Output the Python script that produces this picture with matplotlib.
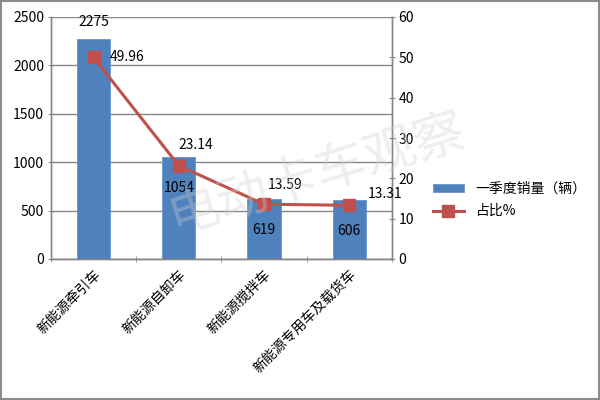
import numpy as np
import matplotlib
matplotlib.use("Agg")
from matplotlib import pyplot as plt
from matplotlib.patches import Rectangle

plt.rcParams['font.family'] = ['Noto Sans CJK SC', 'DejaVu Sans']

# data
categories = ['新能源牵引车', '新能源自卸车', '新能源搅拌车', '新能源专用车及载货车']
sales = [2275, 1054, 619, 606]
share = [49.96, 23.14, 13.59, 13.31]
bar_name = '一季度销量（辆）'
line_name = '占比%'

blue = '#4F81BD'
red = '#C0504D'
grey = '#868686'

fig = plt.figure(figsize=(6, 4), dpi=100)
fig.patches.append(Rectangle((0.002, 0.002), 0.996, 0.996, transform=fig.transFigure,
                             fill=False, edgecolor='#8c8c8c', linewidth=1.5))

ax = fig.add_axes([0.085, 0.3525, 0.568, 0.605])
ax2 = ax.twinx()

x = np.arange(len(categories))
bars = ax.bar(x, sales, width=0.39, color=blue, edgecolor='#6a95c8', linewidth=0.6,
              label=bar_name, zorder=2)
ax.set_xlim(-0.5, len(categories) - 0.5)
ax.set_ylim(0, 2500)
ax.set_yticks(np.arange(0, 2501, 500))
ax.grid(axis='y', color=grey, linewidth=1.0, zorder=0)
ax.set_axisbelow(True)

ax.set_xticks(x)
ax.set_xticklabels(categories, rotation=45, ha='right', va='top', rotation_mode='anchor',
                   fontsize=10)
ax.tick_params(axis='x', length=0, pad=6)
ax.set_xticks(np.arange(-0.5, len(categories)), minor=True)
ax.tick_params(axis='x', which='minor', length=4, color=grey, direction='inout')
ax.tick_params(axis='y', labelsize=10, length=4, color=grey, direction='inout', pad=3)

line, = ax2.plot(x, share, color=red, linewidth=2.2, marker='s', markersize=8,
                 markerfacecolor=red, markeredgecolor=red, label=line_name, zorder=3)
ax2.set_ylim(0, 60)
ax2.set_yticks(np.arange(0, 61, 10))
ax2.tick_params(axis='y', labelsize=10, length=4, color=grey, direction='inout', pad=3)

for a in (ax, ax2):
    a.spines['top'].set_visible(False)
    for s in ('left', 'right', 'bottom'):
        a.spines[s].set_color(grey)
        a.spines[s].set_linewidth(1.0)

# bar value labels
bar_offsets = [(0, 12), (0, -22), (0, -22), (0, -22)]
for xi, v, off in zip(x, sales, bar_offsets):
    ax.annotate(str(v), (xi, v), xytext=off, textcoords='offset points',
                ha='center', va='center', fontsize=10, zorder=5)

# line value labels
line_offsets = [(24, 0), (12, 15), (15, 14), (26, 8)]
for xi, v, off in zip(x, share, line_offsets):
    ax2.annotate(f'{v:.2f}', (xi, v), xytext=off, textcoords='offset points',
                 ha='center', va='center', fontsize=10, zorder=5)

# watermark
fig.text(0.528, 0.565, '电动卡车观察', fontsize=37, color='#d0d0d0', alpha=0.35,
         fontweight='light', rotation=17, ha='center', va='center', zorder=10)

fig.legend([bars, line], [bar_name, line_name], loc='center left',
           bbox_to_anchor=(0.70, 0.50), frameon=False, fontsize=10,
           handlelength=2.3, handleheight=0.6, labelspacing=0.6)

fig.savefig('out.png', dpi=100)
